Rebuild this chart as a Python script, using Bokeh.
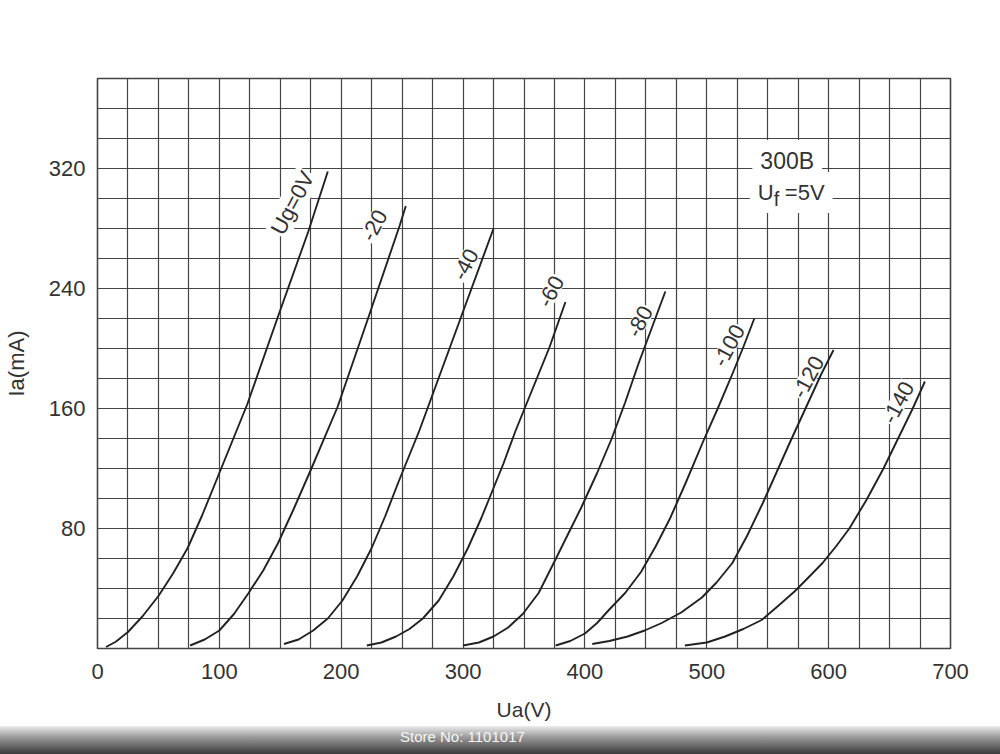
from bokeh.plotting import figure
from bokeh.models import Range1d, FixedTicker, Label, Div
from bokeh.layouts import column
from bokeh.embed import file_html
from bokeh.resources import INLINE

# ---- data ----
ug0_v = [7, 15, 25, 37, 50, 62, 74, 86, 99, 123, 148, 173, 189]
ug0_i = [1, 4.5, 11, 21.5, 35, 50, 67, 89, 115, 163, 221, 278, 318]
ug20_v = [76, 88, 100, 112, 124, 136, 148, 161, 175, 197, 222, 248, 253]
ug20_i = [2, 6, 12, 23, 37, 52, 70, 93, 119, 161, 220, 282, 295]
ug40_v = [153, 165, 177, 189, 201, 213, 225, 236, 247, 264, 297, 325]
ug40_i = [3, 6, 12, 20, 32, 48, 67, 88, 111, 145, 218, 280]
ug60_v = [221, 233, 245, 256, 267, 280, 292, 304, 315, 322, 333, 343, 357, 371, 384]
ug60_i = [2, 4, 8, 13, 20, 32, 48, 67, 87, 101, 123, 145, 173, 201, 231]
ug80_v = [300, 313, 325, 337, 349, 362, 375, 386, 397, 410, 422, 433, 444, 455, 466]
ug80_i = [2, 4, 8, 14, 23, 37, 58, 76, 94, 117, 140, 164, 190, 214, 238]
ug100_v = [376, 388, 400, 410, 420, 433, 446, 458, 470, 483, 497, 509, 521, 530, 539]
ug100_i = [2, 5, 10, 17, 26, 37, 51, 68, 87, 111, 138, 160, 183, 201, 220]
ug120_v = [406, 420, 435, 449, 463, 479, 496, 508, 521, 533, 546, 557, 568, 581, 594, 604]
ug120_i = [3, 5, 8, 12, 17, 24, 34, 44, 57, 75, 97, 117, 137, 160, 183, 199]
ug140_v = [482, 500, 515, 530, 545, 558, 572, 583, 595, 606, 617, 631, 645, 657, 669, 679]
ug140_i = [2, 4, 8, 13, 19, 28, 38, 47, 57, 68, 80, 99, 120, 140, 160, 178]

curve_names = ["Ug=0V", "-20", "-40", "-60", "-80", "-100", "-120", "-140"]
x_ticks = [0, 100, 200, 300, 400, 500, 600, 700]
y_ticks = [80, 160, 240, 320]
x_grid_step = 25
y_grid_step = 20
x_max = 700
y_max = 380
tube_name = "300B"
x_title = "Ua(V)"
y_title = "Ia(mA)"
store_text = "Store No: 1101017"

# label anchor positions (data units) and angle
label_pos = [(160, 297), (227, 282), (302, 256), (372, 238), (445, 218),
             (518, 202), (583, 181), (657, 164)]
label_angle = 62

FONT = "Liberation Sans"
TXT = "#333333"
GRID = "#444444"

p = figure(width=1000, height=726, x_range=Range1d(0, x_max), y_range=Range1d(0, y_max),
           output_backend="svg", toolbar_location=None,
           min_border_left=93, min_border_right=50, min_border_top=78, min_border_bottom=78)
p.background_fill_color = "white"
p.border_fill_color = "white"
p.outline_line_color = GRID
p.outline_line_width = 1.6

p.xaxis.ticker = FixedTicker(ticks=x_ticks)
p.yaxis.ticker = FixedTicker(ticks=y_ticks)
p.xgrid.ticker = FixedTicker(ticks=list(range(0, x_max + 1, x_grid_step)))
p.ygrid.ticker = FixedTicker(ticks=list(range(0, y_max + 1, y_grid_step)))
for g in (p.xgrid, p.ygrid):
    g.grid_line_color = GRID
    g.grid_line_width = 1.2
    g.grid_line_alpha = 1.0

for ax in (p.xaxis, p.yaxis):
    ax.axis_line_color = None
    ax.major_tick_line_color = None
    ax.minor_tick_line_color = None
    ax.major_label_text_font = FONT
    ax.major_label_text_font_size = "22px"
    ax.major_label_text_color = TXT
    ax.axis_label_text_font = FONT
    ax.axis_label_text_font_style = "normal"
    ax.axis_label_text_color = TXT
p.xaxis.major_label_standoff = 9
p.yaxis.major_label_standoff = 6
p.xaxis.axis_label = x_title
p.yaxis.axis_label = y_title
p.xaxis.axis_label_text_font_size = "21px"
p.yaxis.axis_label_text_font_size = "22px"
p.xaxis.axis_label_standoff = 16
p.yaxis.axis_label_standoff = 17

curves = [(ug0_v, ug0_i), (ug20_v, ug20_i), (ug40_v, ug40_i), (ug60_v, ug60_i),
          (ug80_v, ug80_i), (ug100_v, ug100_i), (ug120_v, ug120_i), (ug140_v, ug140_i)]
for vs, iss in curves:
    p.line(vs, iss, line_color="#222222", line_width=1.9, line_join="round")

for name, (lx, ly) in zip(curve_names, label_pos):
    p.add_layout(Label(x=lx, y=ly, text=name, angle=label_angle, angle_units="deg",
                       text_align="center", text_baseline="middle",
                       text_font=FONT, text_font_size="22px", text_color=TXT,
                       background_fill_color="white", padding=1))

# tube name and filament voltage (U, subscript f, =5V)
p.add_layout(Label(x=566, y=325, text=tube_name, text_align="center", text_baseline="middle",
                   text_font=FONT, text_font_size="23px", text_color=TXT,
                   background_fill_color="white", padding=8))
p.add_layout(Label(x=569, y=304, text="U", x_offset=-41, text_align="left", text_baseline="middle",
                   text_font=FONT, text_font_size="22px", text_color=TXT,
                   background_fill_color="white", padding=8))
p.add_layout(Label(x=569, y=304, text="=5V", x_offset=-14, text_align="left", text_baseline="middle",
                   text_font=FONT, text_font_size="22px", text_color=TXT,
                   background_fill_color="white", padding=8))
p.add_layout(Label(x=569, y=304, text="f", x_offset=-17, y_offset=-6, text_align="left",
                   text_baseline="middle", text_font=FONT, text_font_size="20px",
                   text_color=TXT))

# scan shadow band with store watermark
band = Div(text=store_text, width=1000, height=28,
           styles={"background": "linear-gradient(to bottom, #ececec 0%, #9a9a9a 40%, #3a3a3a 100%)",
                   "color": "#f6f6f6", "font-family": FONT, "font-size": "15px",
                   "padding-left": "400px", "line-height": "22px", "box-sizing": "border-box",
                   "width": "1000px", "height": "28px", "margin": "0"})

layout = column(p, band, spacing=0)
open("out.html", "w").write(file_html(layout, INLINE))
